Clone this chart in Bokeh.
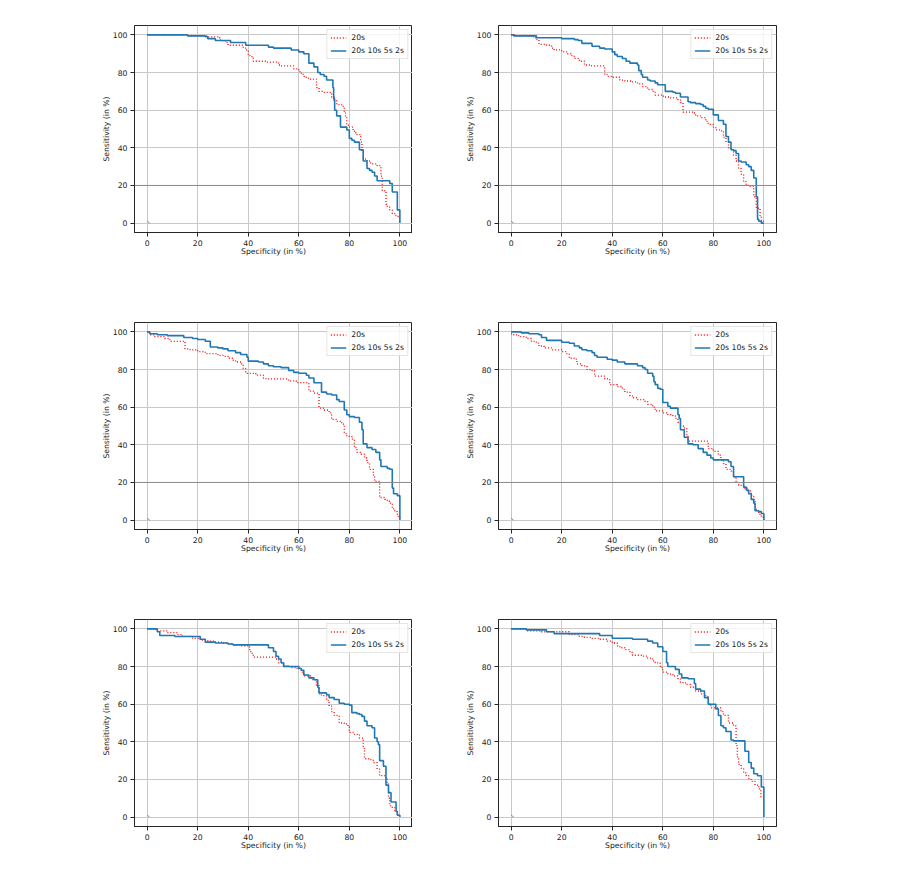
from bokeh.plotting import figure
from bokeh.layouts import column, row
from bokeh.models import FixedTicker, Span, Legend, LegendItem
from bokeh.embed import file_html
from bokeh.resources import INLINE

# ---------------- data (specificity %, sensitivity % ; step starts) ----------------
ticks = [0, 20, 40, 60, 80, 100]
label_20s = "20s"
label_all = "20s 10s 5s 2s"
chance_x = [0, 1]
chance_y = [1, 0]

# Panel A
a_all_x = [0, 16, 23, 24, 27, 33, 39, 48, 50, 57, 60, 62, 64, 66, 67.5, 68.5, 70, 71, 73.5, 73.8, 74.2, 75, 76.5, 79, 80, 81, 82, 84, 85.5, 87, 88, 89, 90, 91, 96, 97, 99, 100]
a_all_y = [100, 99.5, 99, 98, 97, 96, 94.5, 93.5, 93, 92, 91, 90, 85, 83, 80, 79, 78, 76, 72, 66, 60, 57, 51, 49.5, 45, 44, 43, 39, 33, 29, 28, 27, 25, 22.5, 21, 16.5, 7, 0]
a_20_x = [0, 16, 24, 28, 29, 31, 32, 38, 39, 40, 41, 42, 47, 52, 53, 58, 60, 61, 62, 63, 64, 67, 68, 69.5, 73, 74, 75, 77, 78, 78.5, 79, 80, 81.5, 82, 83, 84.5, 85, 85.5, 87, 88, 89, 91, 92.5, 93, 94, 94.5, 95, 96, 97, 98, 99, 100]
a_20_y = [100, 99.5, 99, 98.5, 97, 96, 94.5, 93, 92, 89, 88.5, 86, 85.5, 84, 83.5, 82, 80.5, 79, 78, 77, 76.5, 72, 70, 69.5, 67, 65, 63, 62, 59, 56, 52, 51, 49, 48, 47, 43, 38, 34, 33, 32, 31.5, 30.5, 25, 17.5, 16.5, 10, 8.5, 7, 5, 4, 3.5, 3]

# Panel B
b_all_x = [0, 1, 10, 20, 25, 26.5, 28, 32, 35, 37, 40, 41, 42, 44, 45.5, 47, 50, 50.5, 51.5, 52, 54, 55, 57, 58, 61, 64, 65, 67, 70, 71, 73, 75, 76, 77, 78, 80, 82, 84, 85, 86, 87, 88, 89, 90, 91, 93, 94, 95, 96, 97, 97.5, 98, 99, 100]
b_all_y = [100, 99.5, 98.5, 98, 97.5, 97, 95.5, 94, 93, 92.5, 91, 89.5, 88.5, 87.5, 86, 85, 84, 81, 79, 77.5, 76, 75.5, 74.5, 73.5, 70, 69.5, 69, 67, 64.5, 64, 63.5, 63, 62, 61, 60.5, 57.5, 54.5, 52.5, 46, 43, 39, 38.5, 37, 33, 32.5, 31, 30, 28, 24, 14, 2, 1, 0, 0]
b_20_x = [0, 2, 8, 9, 10, 11, 14, 16, 17, 20, 22, 24, 25, 27, 29, 31, 37, 38, 40, 43, 45, 48, 50, 52, 54, 56, 57, 60, 61, 63, 66, 67, 68, 72, 73, 75, 77, 78, 80, 81, 83, 84, 85, 86, 87, 88, 89, 90, 91, 92, 93, 94, 96, 97, 98.5, 99, 100]
b_20_y = [100, 99.5, 99, 98.5, 97.5, 95, 94.5, 93, 92, 91, 90, 89, 87.5, 86, 84, 83.5, 79, 78, 77.5, 76, 75.5, 75, 74, 72.5, 71, 70, 68, 67.5, 67, 66.5, 65.5, 64, 59, 58.5, 57, 56, 54, 52.5, 51, 49.5, 49, 45.5, 43, 40, 39, 36, 33, 29, 26, 22, 20, 19.5, 14, 8, 4, 1, 0]

# Panel C
c_all_x = [0, 1, 4, 8, 14.5, 18, 20, 23, 25, 28, 30, 32, 35, 37, 39.5, 40, 44, 46, 48, 50, 53, 56, 58, 60, 63, 64, 66, 69, 71, 73, 75, 76, 78, 79, 80, 82, 84, 85, 85.5, 87, 89, 90.5, 92, 92.5, 95, 96, 97, 97.5, 99, 100]
c_all_y = [100, 99, 98.5, 98, 97, 96.5, 96, 95, 92, 91.5, 91, 90, 89, 88, 86.5, 84.5, 84, 83, 82, 81.5, 81, 79.5, 78.5, 78, 77, 75.5, 73, 68, 67, 66.5, 64, 63, 58.5, 56, 55, 54.5, 52, 48, 40.5, 38.5, 37.5, 36, 32, 28.5, 27.5, 27, 17, 14, 13, 0]
c_20_x = [0, 1, 3, 7, 9, 15, 17, 20, 23, 28, 30, 32, 34, 35, 37, 38, 39, 43, 46, 47, 56, 59, 64, 66, 68, 70, 72, 73, 75, 77, 78, 79, 81, 82, 83, 84.5, 86, 87, 88, 89.5, 90, 92, 94, 95, 96, 97, 98, 99, 100]
c_20_y = [100, 98.5, 97.5, 96.5, 95, 91, 90.5, 89.5, 88.5, 87.5, 87, 86, 85, 84, 83, 80.5, 78, 77, 75.5, 75, 74, 73, 68.5, 67.5, 59.5, 58.5, 57, 53.5, 52.5, 51, 46, 44.5, 43, 38.5, 36, 35, 33, 30.5, 27, 24, 20.5, 12, 11, 10, 9, 6, 4.5, 2, 0]

# Panel D
d_all_x = [0, 4, 7, 11, 12, 14, 20, 23, 25, 27, 28, 30, 32, 33, 34, 38, 40, 42, 45, 50, 52, 53, 54, 56, 56.5, 57, 58, 59, 60, 62, 63, 66, 66.5, 67, 68.5, 70, 72, 74, 76, 77.5, 79, 80, 86, 87, 88, 92, 93, 94, 95, 96, 96.5, 98, 99, 100]
d_all_y = [100, 99.5, 99, 98.5, 97, 95.5, 94.5, 94, 92.5, 91.5, 90.5, 90, 89, 87.5, 86.5, 85.5, 85, 84, 83, 82, 81, 80, 78, 76.5, 73.5, 72, 70, 69.5, 62.5, 60.5, 59.5, 56, 54, 48, 44, 40.5, 40, 38, 36, 34.5, 33, 32, 31, 28.5, 23, 17.5, 16, 14, 11, 9, 5, 4.5, 3.5, 0]
d_20_x = [0, 1, 3, 6, 8, 10, 11, 13, 16, 20, 22, 23, 25, 26, 28, 30, 32, 33, 37, 39, 42, 44, 45, 47, 48, 50, 53, 54, 56, 57, 60, 62, 64, 65, 66, 67, 68.5, 69.5, 70, 78, 80, 82, 83, 84, 85, 87, 88, 89, 90, 92, 93.5, 95, 96, 96.5, 97, 98, 99, 100]
d_20_y = [99, 98.5, 97.5, 96.5, 95, 94, 92.5, 91.5, 90.5, 89.5, 88.5, 86, 85.5, 83, 82, 80, 79.5, 76.5, 75, 72, 71, 69.5, 68, 66, 65, 64, 63, 61.5, 60, 58, 57, 56, 55.5, 54, 52, 50, 49, 45, 42, 38, 36.5, 34.5, 32, 30, 27, 26, 23, 20, 18.5, 17, 15.5, 13, 11, 7, 5, 3, 1.5, 0]

# Panel E
e_all_x = [0, 4, 5, 11, 21, 23, 27, 32, 34, 48, 50, 51, 52, 53, 54, 60, 61, 62, 64, 66, 67.5, 68, 71, 72, 74, 76, 78, 80, 81, 83, 84, 85, 86, 87, 89, 90, 91, 91.5, 92, 93.5, 94.5, 95.5, 96.5, 98.5, 99, 100]
e_all_y = [100, 98.5, 96.5, 96, 94.5, 93, 92.5, 92, 91.5, 90, 88, 85.5, 84, 82, 80, 79, 78, 75.5, 74, 73, 69, 66, 65, 63.5, 62.5, 60.5, 60, 59.5, 55.5, 55, 54.5, 53.5, 51, 48.5, 47.5, 42, 40, 38.5, 30, 27, 17, 13, 8, 3, 1, 0]
e_20_x = [0, 3.5, 8, 12, 14, 18, 21, 24, 27, 30, 32, 34, 37, 40.5, 41, 42, 51, 52, 54, 56, 57, 59, 61, 62, 65, 67, 68, 69, 71, 72, 73, 74, 76, 78, 79.5, 80, 82, 84, 85.5, 86, 88, 89.5, 91, 92, 94, 95, 95.5, 96, 97, 98, 99, 100]
e_20_y = [100, 99, 98, 97, 96, 95, 94, 93.5, 93, 92.5, 92, 91.5, 91, 89, 87, 85, 84, 82, 80.5, 80, 79.5, 79, 77, 75, 73, 70, 65.5, 64.5, 62, 59, 56, 54, 50, 49.5, 48, 45, 44, 42, 36.5, 31, 30.5, 29, 25.5, 22, 21, 18, 10, 6, 5, 3, 1, 0]

# Panel F
f_all_x = [0, 6, 14, 17, 35, 40, 48, 54, 56, 58, 60, 61.5, 62, 65, 66.5, 67.5, 70, 72.5, 73, 75, 76.5, 78, 81, 82, 83, 84, 85, 87, 88, 92.5, 94, 95, 96, 97.5, 99, 100]
f_all_y = [100, 99.5, 98.5, 97.5, 96.5, 95, 94.5, 93.5, 92.5, 90.5, 88, 82, 80, 78.5, 76, 74, 73.5, 71, 68, 67, 63.5, 60, 57.5, 54, 48.5, 47.5, 45.5, 41, 40.5, 35, 29, 26, 23, 22, 16, 0]
f_20_x = [0, 6, 12, 23, 27, 29, 32, 35, 38, 40, 42, 43, 45, 47, 48, 52, 54, 56, 57, 59, 60, 62, 64, 66, 67, 69, 71, 73, 75, 77, 78, 79, 83, 84, 86, 88, 89, 89.5, 90, 91, 92, 93, 94, 95, 96.5, 98, 98.8]
f_20_y = [100, 99, 98.5, 97, 96, 95.5, 95, 94.5, 93.5, 92.5, 91, 90, 89, 87.5, 86, 85.5, 84.5, 83, 82, 79.5, 77, 76, 75, 73.5, 71.5, 70.5, 69, 67, 65.5, 64, 60, 58, 56, 54, 50, 48.5, 38, 32, 28, 26, 23.5, 22, 20, 19, 17, 15, 10]

FONT = "DejaVu Sans"
FS = "7.7px"
TXT = "#222222"


def panel(x20, y20, xall, yall, dark20, left_border, right_border, top_border, bottom_border):
    p = figure(frame_width=278, frame_height=207, x_range=(-5, 105), y_range=(-5, 105),
               output_backend="svg", toolbar_location=None,
               min_border_left=left_border, min_border_right=right_border,
               min_border_top=top_border, min_border_bottom=bottom_border)
    p.background_fill_color = "white"
    p.border_fill_color = "white"
    p.outline_line_color = "#262626"
    p.outline_line_width = 1
    for ax in (p.xaxis[0], p.yaxis[0]):
        ax.ticker = FixedTicker(ticks=ticks)
        ax.minor_tick_line_color = None
        ax.major_tick_in = 0
        ax.major_tick_out = 4
        ax.major_tick_line_color = "#262626"
        ax.axis_line_color = "#262626"
        ax.major_label_text_font = FONT
        ax.major_label_text_font_size = FS
        ax.major_label_text_color = TXT
        ax.axis_label_text_font = FONT
        ax.axis_label_text_font_size = FS
        ax.axis_label_text_font_style = "normal"
        ax.axis_label_text_color = TXT
        ax.major_label_standoff = 3
    p.xaxis[0].axis_label_standoff = -2
    p.yaxis[0].axis_label_standoff = -1
    p.xaxis.axis_label = "Specificity (in %)"
    p.yaxis.axis_label = "Sensitivity (in %)"
    p.grid.ticker = FixedTicker(ticks=ticks)
    p.grid.grid_line_color = "#c8c8c8"
    p.grid.grid_line_width = 1
    if dark20:
        p.add_layout(Span(location=20, dimension="width", line_color="#8c8c8c", line_width=1))
    r20 = p.step(x20, y20, mode="after", line_color="red", line_width=1.3, line_dash="1 2")
    rall = p.step(xall, yall, mode="after", line_color="#1f77b4", line_width=1.6)
    p.line(chance_x, chance_y, line_color="#888888", line_width=1)
    legend = Legend(items=[LegendItem(label=label_20s, renderers=[r20]),
                           LegendItem(label=label_all, renderers=[rall])],
                    location="top_right")
    legend.margin = 4
    legend.padding = 3
    legend.spacing = 4
    legend.glyph_width = 16
    legend.glyph_height = 9
    legend.label_height = 9
    legend.label_standoff = 5
    legend.label_text_font = FONT
    legend.label_text_font_size = FS
    legend.label_text_color = TXT
    legend.border_line_color = "#cccccc"
    legend.border_line_width = 1
    legend.background_fill_alpha = 0.8
    p.add_layout(legend)
    return p


p1 = panel(a_20_x, a_20_y, a_all_x, a_all_y, True, 134, 0, 25, 73)
p2 = panel(b_20_x, b_20_y, b_all_x, b_all_y, True, 86, 10, 25, 73)
p3 = panel(c_20_x, c_20_y, c_all_x, c_all_y, True, 134, 0, 17, 73)
p4 = panel(d_20_x, d_20_y, d_all_x, d_all_y, True, 86, 10, 17, 73)
p5 = panel(e_20_x, e_20_y, e_all_x, e_all_y, False, 134, 0, 17, 40)
p6 = panel(f_20_x, f_20_y, f_all_x, f_all_y, False, 86, 10, 17, 40)

layout = column(row(p1, p2), row(p3, p4), row(p5, p6))

open("out.html", "w").write(file_html(layout, INLINE))
